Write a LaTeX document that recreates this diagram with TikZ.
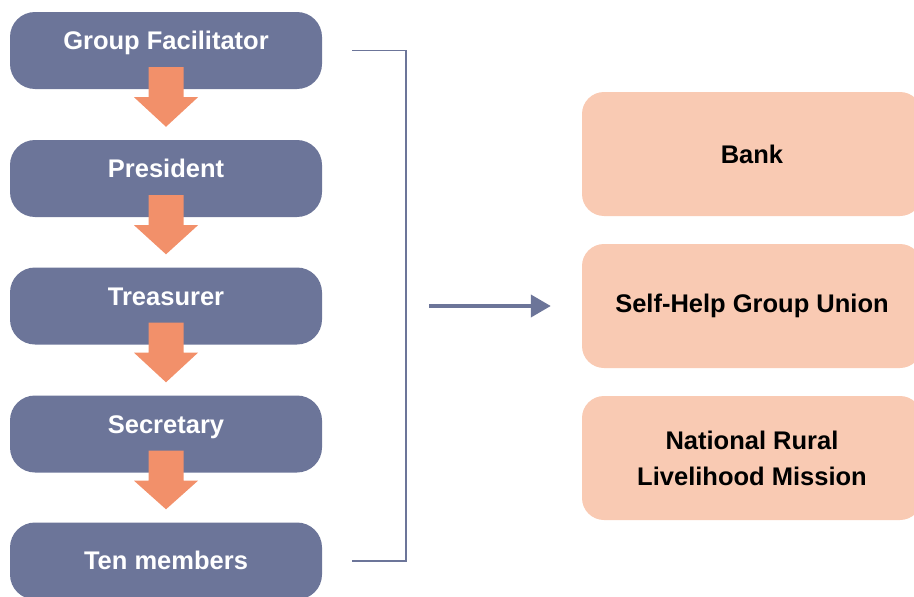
\documentclass[tikz,border=0pt]{standalone}
\usepackage{fontspec}
\setmainfont{Liberation Sans}
\usepackage{tikz}
\usetikzlibrary{positioning,calc,arrows.meta}
\definecolor{slate}{HTML}{6C7599}
\definecolor{peach}{HTML}{F9CAB3}
\definecolor{coral}{HTML}{F2906A}

\begin{document}
\begin{tikzpicture}[x=1pt,y=-1pt,>=latex,
        role/.style={rectangle,rounded corners=25pt,fill=slate,text=white,inner sep=0pt,
            minimum width=312pt,minimum height=77pt,text height=18pt,text depth=20pt,
            font=\fontsize{25.5}{30}\selectfont\bfseries},
        agency/.style={rectangle,rounded corners=22pt,fill=peach,align=center,
            minimum width=340pt,minimum height=124pt,
            font=\fontsize{25.5}{36}\selectfont\bfseries},
        flow/.style={fill=coral},
        link/.style={draw=slate,line width=1.5pt}]
        \useasboundingbox (0,0) rectangle (914,597);
        \clip (0,0) rectangle (914,597);
        \path
        % group roles
        +(166,50.5) node[role] (gf) {Group Facilitator}
        +(166,178.5) node[role] (pres) {President}
        +(166,306) node[role] (treas) {Treasurer}
        +(166,434) node[role] (sec) {Secretary}
        +(166,561) node[role,text depth=2pt] (mem) {Ten members};
        \path
        % linked bodies
        +(752,154) node[agency] (bank) {Bank}
        +(752,306) node[agency] (shg) {Self-Help Group Union}
        +(752,458) node[agency] (nrlm) {National Rural\\Livelihood Mission};
        \foreach \a/\b in {gf/pres,pres/treas,treas/sec,sec/mem}
            \fill[flow] ($(\a.south)+(-17.5,-22)$) -- ++(35,0) -- ++(0,30) -- ++(14.5,0)
                -- ($(\b.north)+(0,-13)$) -- ($(\a.south)+(-32,8)$) -- ($(\a.south)+(-17.5,8)$) -- cycle;
        \draw[link] ($(gf.east)+(30,0)$) -- ++(54,0) |- ($(mem.east)+(30,0)$);
        \coordinate (tail) at (429,306);
        \draw[link,line width=4pt,-{Triangle[length=20pt,width=22pt]}] (tail) -- ($(shg.west)+(-31,0)$);
    \end{tikzpicture}
\end{document}
